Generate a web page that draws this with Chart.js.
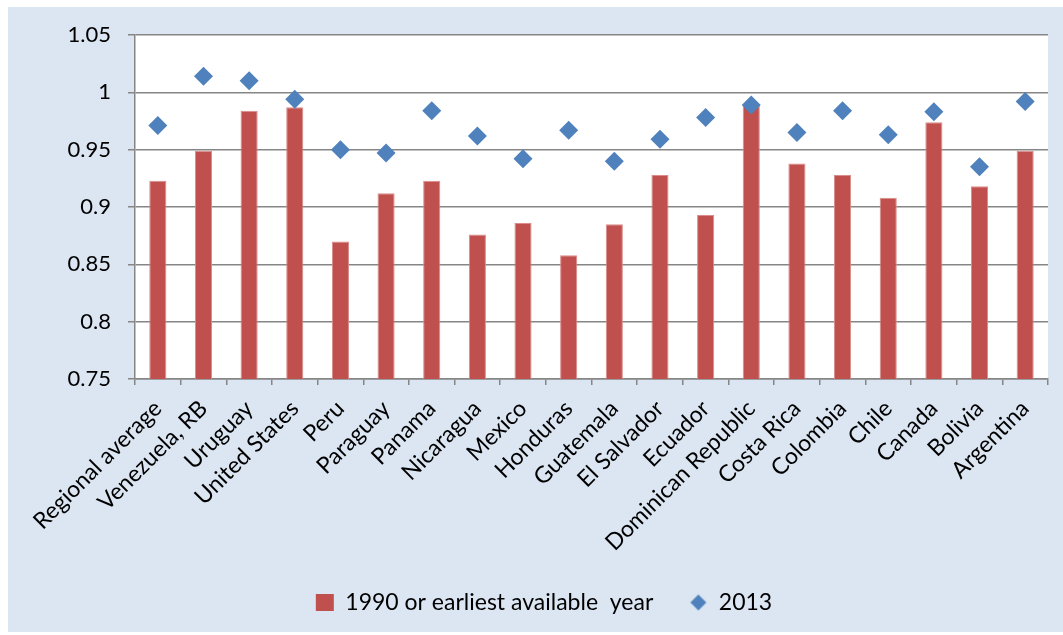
<!DOCTYPE html>
<html>
<head>
<meta charset="utf-8">
<script src="https://cdn.jsdelivr.net/npm/chart.js@4"></script>
<style>
html,body{margin:0;padding:0;background:#fff;}
#wrap{width:1063px;height:635px;position:relative;}
</style>
</head>
<body>
<div id="wrap"><canvas id="c" width="1063" height="635"></canvas></div>
<script>
const categories = ["Regional average","Venezuela, RB","Uruguay","United States","Peru","Paraguay","Panama","Nicaragua","Mexico","Honduras","Guatemala","El Salvador","Ecuador","Dominican Republic","Costa Rica","Colombia","Chile","Canada","Bolivia","Argentina"];
const values1990 = [0.923,0.949,0.984,0.987,0.870,0.912,0.923,0.876,0.886,0.858,0.885,0.928,0.893,0.990,0.938,0.928,0.908,0.974,0.918,0.949];
const values2013 = [0.971,1.014,1.010,0.994,0.950,0.947,0.984,0.962,0.942,0.967,0.940,0.959,0.978,0.989,0.965,0.984,0.963,0.983,0.935,0.992];
const seriesNames = ["1990 or earliest available  year","2013"];
const yMin = 0.75, yMax = 1.05, yStep = 0.05;

const FONT = "Lato, 'Liberation Sans', sans-serif";
const RED = '#c0504d', BLUE = '#4f81bd';

// small diamond image for the legend marker
const legendDiamond = document.createElement('canvas');
legendDiamond.width = 18; legendDiamond.height = 18;
(function(){
  const g = legendDiamond.getContext('2d');
  g.fillStyle = BLUE;
  g.beginPath();
  g.moveTo(9,1); g.lineTo(17,9); g.lineTo(9,17); g.lineTo(1,9); g.closePath();
  g.fill();
})();

const bgPlugin = {
  id: 'bg',
  beforeDraw(chart){
    const ctx = chart.ctx, a = chart.chartArea;
    ctx.save();
    ctx.fillStyle = '#ffffff';
    ctx.fillRect(0,0,chart.width,chart.height);
    ctx.fillStyle = '#dce6f2';
    ctx.fillRect(8,7,chart.width-8,chart.height-10);
    ctx.fillStyle = '#ffffff';
    ctx.fillRect(a.left,a.top,a.right-a.left,a.bottom-a.top);
    ctx.restore();
  }
};

new Chart(document.getElementById('c'), {
  type: 'bar',
  data: {
    labels: categories,
    datasets: [
      {
        type: 'bar',
        label: seriesNames[0],
        data: values1990,
        backgroundColor: RED,
        borderColor: '#d98c8a',
        borderWidth: {left:1,right:1,top:1,bottom:0},
        barPercentage: 0.375,
        categoryPercentage: 1,
        pointStyle: 'rect',
        order: 2
      },
      {
        type: 'line',
        label: seriesNames[1],
        data: values2013,
        showLine: false,
        pointStyle: 'rectRot',
        pointRadius: 9.5,
        pointHoverRadius: 9.5,
        backgroundColor: BLUE,
        borderColor: BLUE,
        pointBorderWidth: 0,
        order: 1
      }
    ]
  },
  options: {
    responsive: false,
    animation: false,
    events: [],
    layout: { padding: { left: 40, right: 15, top: 35, bottom: 11 } },
    plugins: {
      tooltip: { enabled: false },
      legend: {
        position: 'bottom',
        labels: {
          usePointStyle: true,
          pointStyleWidth: 18,
          color: '#000',
          font: { family: FONT, size: 23 },
          padding: 36,
          boxHeight: 17,
          sort: (a, b) => a.datasetIndex - b.datasetIndex,
          generateLabels(chart){
            const items = Chart.defaults.plugins.legend.labels.generateLabels(chart);
            items.forEach(it => {
              if (it.datasetIndex === 1) it.pointStyle = legendDiamond;
              else { it.pointStyle = 'rect'; it.lineWidth = 0; }
            });
            return items;
          }
        }
      }
    },
    scales: {
      x: {
        offset: true,
        grid: {
          offset: true,
          drawOnChartArea: false,
          drawTicks: true,
          tickLength: 6,
          color: '#868686',
          lineWidth: 1.5
        },
        border: { color: '#868686', width: 1.5 },
        ticks: {
          minRotation: 45,
          maxRotation: 45,
          autoSkip: false,
          color: '#000',
          font: { family: FONT, size: 23 },
          padding: 10
        },
        afterFit(scale){
          scale.height = 176;
          scale.paddingLeft = 0;
          scale.paddingRight = 0;
        }
      },
      y: {
        min: yMin,
        max: yMax,
        grid: {
          color: '#868686',
          lineWidth: 1.5,
          tickLength: 7
        },
        border: { color: '#868686', width: 1.5 },
        ticks: {
          stepSize: yStep,
          color: '#000',
          font: { family: FONT, size: 22 },
          padding: 17,
          callback: v => String(Number(v.toFixed(2)))
        },
        afterFit(scale){ scale.width = 95; }
      }
    }
  },
  plugins: [bgPlugin]
});
</script>
</body>
</html>
